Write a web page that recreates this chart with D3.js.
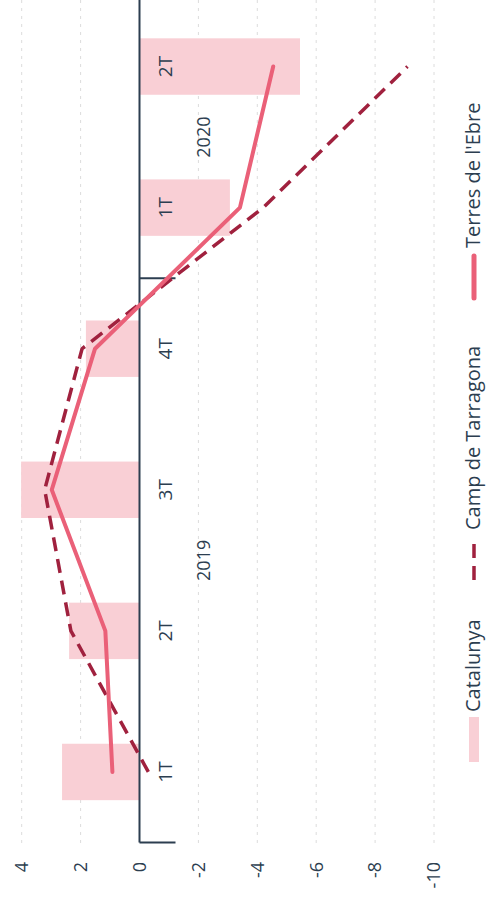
<!DOCTYPE html>
<html>
<head>
<meta charset="utf-8">
<script src="https://cdn.jsdelivr.net/npm/d3@7"></script>
<style>
  html, body { margin: 0; padding: 0; background: #fff; }
  svg text { font-family: "Open Sans", sans-serif; fill: #2c3e50; }
</style>
</head>
<body>
<svg id="chart"></svg>
<script>
// data
const quarters = ['1T', '2T', '3T', '4T', '1T ', '2T '];
const quarterLabels = ['1T', '2T', '3T', '4T', '1T', '2T'];
const years = [
  { label: '2019', from: 0, to: 3 },
  { label: '2020', from: 4, to: 5 }
];
const catalunya = [2.63, 2.39, 4.02, 1.82, -3.07, -5.45];
const campTarragona = [-0.3, 2.33, 3.22, 1.95, -4.2, -9.1];
const terresEbre = [0.92, 1.16, 2.98, 1.51, -3.41, -4.54];
const valueTicks = [4, 2, 0, -2, -4, -6, -8, -10];

const screenW = 486;
const screenH = 904;
// the chart is drawn landscape and turned a quarter to the left
const width = screenH;
const height = screenW;

const svg = d3.select('#chart')
  .attr('width', screenW)
  .attr('height', screenH);

const g = svg.append('g')
  .attr('transform', `translate(0,${screenH}) rotate(-90)`);

const x = d3.scaleBand()
  .domain(quarters)
  .range([61.5, 908])
  .paddingInner(0.6)
  .paddingOuter(0.3);

const y = d3.scaleLinear()
  .domain([-10, 4])
  .range([434, 21.7]);

// grid
g.append('g')
  .selectAll('line')
  .data(valueTicks.filter(d => d !== 0))
  .enter()
  .append('line')
  .attr('x1', 61)
  .attr('x2', width)
  .attr('y1', d => y(d))
  .attr('y2', d => y(d))
  .attr('stroke', '#dcdcdc')
  .attr('stroke-width', 1)
  .attr('stroke-dasharray', '3,5');

// bars
g.append('g')
  .selectAll('rect')
  .data(catalunya)
  .enter()
  .append('rect')
  .attr('x', (d, i) => x(quarters[i]))
  .attr('width', x.bandwidth())
  .attr('y', d => y(Math.max(0, d)))
  .attr('height', d => Math.abs(y(d) - y(0)))
  .attr('fill', '#f9cfd5');

// value labels
g.append('g')
  .selectAll('text')
  .data(valueTicks)
  .enter()
  .append('text')
  .attr('x', 42)
  .attr('y', d => y(d))
  .attr('dy', '0.35em')
  .attr('text-anchor', 'end')
  .style('font-size', '18px')
  .text(d => d);

// zero axis and ticks
g.append('line')
  .attr('x1', 61.5)
  .attr('x2', width)
  .attr('y1', y(0))
  .attr('y2', y(0))
  .attr('stroke', '#2c3e50')
  .attr('stroke-width', 2);

const step = x.step();
const tickPositions = [x.range()[0], x(quarters[4]) - (step - x.bandwidth()) / 2];
g.append('g')
  .selectAll('line')
  .data(tickPositions)
  .enter()
  .append('line')
  .attr('x1', d => d)
  .attr('x2', d => d)
  .attr('y1', y(0))
  .attr('y2', y(0) + 36)
  .attr('stroke', '#2c3e50')
  .attr('stroke-width', 2);

g.append('g')
  .selectAll('text')
  .data(quarters)
  .enter()
  .append('text')
  .attr('x', d => x(d) + x.bandwidth() / 2)
  .attr('y', 172)
  .attr('text-anchor', 'middle')
  .style('font-size', '19px')
  .text((d, i) => quarterLabels[i]);

g.append('g')
  .selectAll('text')
  .data(years)
  .enter()
  .append('text')
  .attr('x', d => (x(quarters[d.from]) + x(quarters[d.to])) / 2 + x.bandwidth() / 2)
  .attr('y', 210)
  .attr('text-anchor', 'middle')
  .style('font-size', '18px')
  .text(d => d.label);

// lines
const line = d3.line()
  .x((d, i) => x(quarters[i]) + x.bandwidth() / 2)
  .y(d => y(d));

g.append('path')
  .datum(campTarragona)
  .attr('d', line)
  .attr('fill', 'none')
  .attr('stroke', '#a0213e')
  .attr('stroke-width', 3.5)
  .attr('stroke-dasharray', '14,8');

g.append('path')
  .datum(terresEbre)
  .attr('d', line)
  .attr('fill', 'none')
  .attr('stroke', '#ea6078')
  .attr('stroke-width', 4)
  .attr('stroke-linecap', 'round')
  .attr('stroke-linejoin', 'round');

// legend
const legend = g.append('g').attr('transform', 'translate(0,474)');

legend.append('rect')
  .attr('x', 142)
  .attr('y', -5)
  .attr('width', 45)
  .attr('height', 10)
  .attr('fill', '#f9cfd5');
legend.append('text')
  .attr('x', 192)
  .attr('y', 6)
  .style('font-size', '20px')
  .text('Catalunya');

legend.append('line')
  .attr('x1', 324)
  .attr('x2', 364)
  .attr('stroke', '#a0213e')
  .attr('stroke-width', 3.5)
  .attr('stroke-dasharray', '14,8');
legend.append('text')
  .attr('x', 374)
  .attr('y', 6)
  .style('font-size', '20px')
  .text('Camp de Tarragona');

legend.append('line')
  .attr('x1', 606)
  .attr('x2', 648)
  .attr('stroke', '#ea6078')
  .attr('stroke-width', 5)
  .attr('stroke-linecap', 'round');
legend.append('text')
  .attr('x', 656)
  .attr('y', 6)
  .style('font-size', '20px')
  .text("Terres de l'Ebre");
</script>
</body>
</html>
